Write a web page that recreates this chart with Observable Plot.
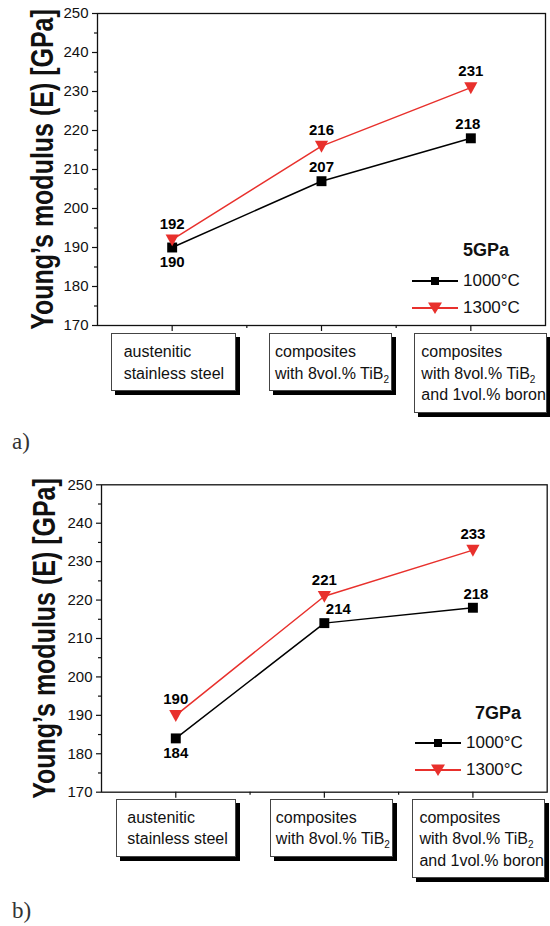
<!DOCTYPE html>
<html><head><meta charset="utf-8">
<script src="https://cdn.jsdelivr.net/npm/d3@7"></script>
<script src="https://cdn.jsdelivr.net/npm/@observablehq/plot@0.6"></script>
<style>
body{margin:0;background:#fff;font-family:Arial,"Liberation Sans",sans-serif;}
#root{position:relative;width:550px;height:926px;overflow:hidden;background:#fff;}
.panel{position:absolute;left:0;width:550px;}
.panel > svg{position:absolute;left:0;top:0;overflow:visible;}
.box{position:absolute;background:#fff;border:1px solid #444;box-shadow:4px 4px 0 #000;font-size:16px;line-height:21.6px;color:#111;white-space:nowrap;box-sizing:border-box;padding-top:7px;}
.box sub{font-size:10px;vertical-align:-4px;line-height:0;}
.lg-title{position:absolute;font-weight:bold;font-size:18px;line-height:22px;color:#111;}
.lg-row{position:absolute;display:flex;align-items:center;height:22px;font-size:17px;color:#111;}
.lg-row svg{display:block;flex:none;}
.lg-row span{margin-left:5px;}
.tag{position:absolute;left:12px;font-family:"Liberation Serif","Times New Roman",serif;font-size:23px;line-height:23px;color:#333;}
</style></head><body><div id="root"></div>
<script>
// ---- data ----
const categoryLines = [
  ["austenitic", "stainless steel"],
  ["composites", "with 8vol.% TiB<sub>2</sub>"],
  ["composites", "with 8vol.% TiB<sub>2</sub>", "and 1vol.% boron"]
];
const seriesNames = ["1000°C", "1300°C"];
const pressures = ["5GPa", "7GPa"];
const panelTags = ["a)", "b)"];
const modulus5GPa_1000 = [190, 207, 218];
const modulus5GPa_1300 = [192, 216, 231];
const modulus7GPa_1000 = [184, 214, 218];
const modulus7GPa_1300 = [190, 221, 233];
const yTicks = [170, 180, 190, 200, 210, 220, 230, 240, 250];
const yMinorTicks = [175, 185, 195, 205, 215, 225, 235, 245];
const yLabel = "Young’s modulus (E) [GPa]";

// ---- styling / layout ----
const RED = "#e8302c";
const triDown = {
  draw(ctx, size) {
    const r = Math.sqrt(size / Math.PI);
    ctx.moveTo(-r, -r * 0.8);
    ctx.lineTo(r, -r * 0.8);
    ctx.lineTo(0, r);
    ctx.closePath();
  }
};
const panels = [
  {top: 0, marginTop: 13, plotH: 312, marginLeft: 97, marginRight: 5, tagTop: 430,
   values: [modulus5GPa_1000, modulus5GPa_1300], pressure: pressures[0], tag: panelTags[0],
   yLabelDx: -55, blackDx: [0, 0, -3],
   boxDx: [-61, -52, -56], boxW: [125, 123, 133], boxPad: [12, 5, 6], boxGap: 8,
   lgLeft: -133, lgTitleDx: 51, lgTitle: -75, lgRows: [-44, -17]},
  {top: 470, marginTop: 14.3, plotH: 307.4, marginLeft: 101, marginRight: 3.3, tagTop: 899,
   values: [modulus7GPa_1000, modulus7GPa_1300], pressure: pressures[1], tag: panelTags[1],
   yLabelDx: -57, blackDx: [0, 14, 3],
   boxDx: [-59, -54, -60], boxW: [120, 123, 133], boxPad: [10, 5, 6], boxGap: 7,
   lgLeft: -131.7, lgTitleDx: 60, lgTitle: -79, lgRows: [-49, -22]}
];

const root = document.getElementById("root");

panels.forEach(p => {
  const rows = seriesNames.flatMap((s, k) => p.values[k].map((v, i) => ({series: s, i, v})));
  const black = rows.filter(d => d.series === seriesNames[0]);
  const red = rows.filter(d => d.series === seriesNames[1]);
  const marginBottom = 10;
  const height = p.marginTop + p.plotH + marginBottom;

  const chart = Plot.plot({
    width: 550, height,
    marginTop: p.marginTop, marginLeft: p.marginLeft, marginRight: p.marginRight, marginBottom,
    x: {type: "linear", domain: [-0.5, 2.5]},
    y: {domain: [170, 250]},
    color: {domain: seriesNames, range: ["#000", RED]},
    style: {fontFamily: "Arial, 'Liberation Sans', sans-serif", color: "#111", background: "transparent", overflow: "visible"},
    marks: [
      Plot.axisY({ticks: yTicks, tickSize: 5, tickPadding: 4, fontSize: 15, label: null, strokeWidth: 1.2}),
      Plot.axisY({ticks: yMinorTicks, tickSize: 3, text: null, label: null, strokeWidth: 1.2}),
      Plot.axisX({ticks: [0, 1, 2], tickSize: 6, text: null, label: null, strokeWidth: 1.2}),
      Plot.axisX({ticks: [0.5, 1.5], tickSize: 3, text: null, label: null, strokeWidth: 1.2}),
      Plot.frame({stroke: "#111", strokeWidth: 1.3}),
      Plot.line(black, {x: "i", y: "v", stroke: "series", strokeWidth: 1.5}),
      Plot.line(red, {x: "i", y: "v", stroke: "series", strokeWidth: 1.5}),
      Plot.dot(black, {x: "i", y: "v", symbol: "square", r: 5.6, fill: "#000", stroke: null}),
      Plot.dot(red, {x: "i", y: "v", symbol: triDown, r: 6.6, fill: RED, stroke: null}),
      ...black.map((d, j) => Plot.text([d], {x: "i", y: "v", text: d => String(d.v),
        dy: d.i === 0 ? 15 : -14, dx: p.blackDx[j], fontSize: 15, fontWeight: "bold", fill: "#000"})),
      Plot.text(red, {x: "i", y: "v", text: d => String(d.v), dy: -16, fontSize: 15, fontWeight: "bold", fill: "#000"}),
      Plot.text([yLabel], {frameAnchor: "left", textAnchor: "middle", dx: p.yLabelDx, rotate: -90, fontSize: 25, fontWeight: "bold", fill: "#111"})
    ]
  });

  // stretch y-axis title glyphs like the original
  chart.querySelectorAll("text").forEach(t => {
    if (t.textContent === yLabel) {
      const tr = t.getAttribute("transform") || "";
      t.setAttribute("transform", tr + " scale(1,1.25)");
    }
  });

  const panel = document.createElement("div");
  panel.className = "panel";
  panel.style.top = p.top + "px";
  panel.style.height = (height + 120) + "px";
  panel.appendChild(chart);
  root.appendChild(panel);

  const xs = chart.scale("x");
  const frameBottom = p.marginTop + p.plotH;
  const frameRight = 550 - p.marginRight;

  categoryLines.forEach((lines, i) => {
    const b = document.createElement("div");
    b.className = "box";
    b.style.left = (xs.apply(i) + p.boxDx[i]) + "px";
    b.style.top = (frameBottom + p.boxGap) + "px";
    b.style.width = p.boxW[i] + "px";
    b.style.paddingLeft = p.boxPad[i] + "px";
    b.style.paddingBottom = "6px";
    b.innerHTML = lines.join("<br>");
    panel.appendChild(b);
  });

  // legend
  const lgX = frameRight + p.lgLeft;
  const title = document.createElement("div");
  title.className = "lg-title";
  title.style.left = (lgX + p.lgTitleDx) + "px";
  title.style.top = (frameBottom + p.lgTitle - 11) + "px";
  title.textContent = p.pressure;
  panel.appendChild(title);
  seriesNames.forEach((s, k) => {
    const row = document.createElement("div");
    row.className = "lg-row";
    row.style.left = lgX + "px";
    row.style.top = (frameBottom + p.lgRows[k] - 11) + "px";
    const col = k === 0 ? "#000" : RED;
    const mark = k === 0
      ? `<rect x="19" y="7" width="8" height="8" fill="#000"/>`
      : `<path d="M16,5.5 L30,5.5 L23,17 Z" fill="${col}"/>`;
    row.innerHTML = `<svg width="46" height="22"><line x1="0" x2="46" y1="11" y2="11" stroke="${col}" stroke-width="1.8"/>${mark}</svg><span>${s}</span>`;
    panel.appendChild(row);
  });

  const tag = document.createElement("div");
  tag.className = "tag";
  tag.style.top = (p.tagTop - p.top) + "px";
  tag.textContent = p.tag;
  panel.appendChild(tag);
});
</script></body></html>
